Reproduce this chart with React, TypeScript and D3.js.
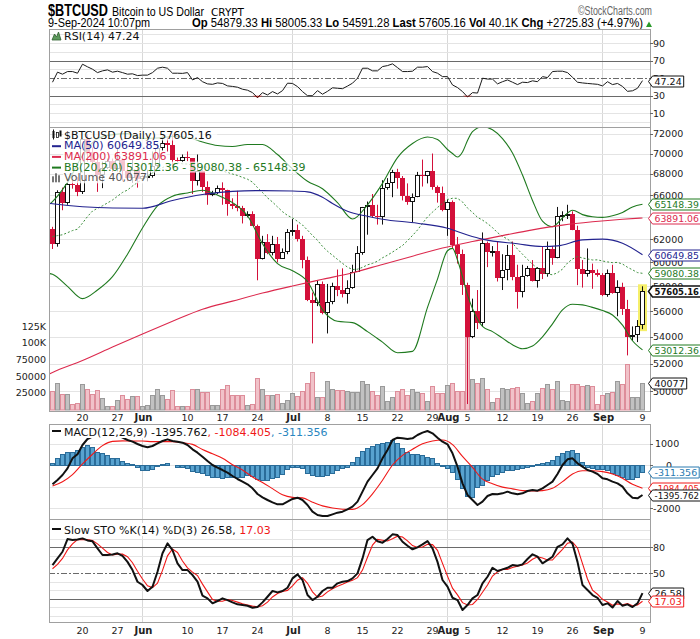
import React from 'react';
import * as d3 from 'd3';

// daily candles, 14 May 2024 .. 9 Sep 2024
const opens = [62900, 61550, 66250, 65230, 67050, 66940, 66280, 71450, 70140, 69120,
  67930, 68530, 69270, 68520, 69400, 68300, 67600, 68350, 67530, 67760,
  67770, 68800, 70570, 71080, 70800, 69340, 69310, 69650, 69510, 67320,
  68240, 66760, 66010, 66190, 66640, 66490, 65140, 64960, 64830, 64100,
  64260, 63180, 60280, 61800, 60810, 61600, 60320, 60890, 62680, 62850,
  62030, 60170, 56900, 56650, 58230, 55850, 56710, 58050, 57720, 57340,
  57900, 59230, 60790, 64870, 65100, 64100, 63970, 66710, 67160, 68200,
  67580, 65930, 65370, 65800, 67910, 67810, 68250, 66800, 66200, 64620,
  65360, 61500, 60680, 58120, 53990, 56030, 55030, 61710, 60880, 60950,
  58710, 59350, 60600, 58740, 57560, 58880, 59490, 58430, 59490, 59010,
  61160, 60380, 64090, 64180, 64250, 62840, 59430, 59030, 59370, 59120,
  58970, 57330, 59110, 57480, 57970, 56160, 53960, 54140, 54879.33];
const highs = [63100, 66450, 66700, 67400, 67400, 67700, 71500, 71950, 70600, 70100,
  69200, 69500, 69500, 70600, 69500, 68900, 69500, 69000, 67850, 68400,
  70200, 71000, 71700, 71600, 71900, 69600, 69900, 70200, 69550, 69900,
  68400, 67300, 66400, 66900, 67200, 66500, 65700, 66400, 65000, 64500,
  64500, 63300, 62300, 62450, 62300, 62200, 61200, 62900, 63800, 63300,
  62300, 60500, 57500, 58450, 58400, 58200, 58300, 59400, 59500, 58500,
  59800, 61400, 64900, 65400, 66100, 65100, 67400, 67600, 68400, 68500,
  67800, 67100, 66150, 68200, 69400, 68300, 70000, 66900, 66800, 65600,
  65500, 62200, 61100, 58300, 57000, 57700, 62600, 61800, 61400, 61800,
  60700, 61500, 61800, 59800, 59800, 59700, 60200, 59600, 61400, 61800,
  61400, 64900, 64500, 65100, 64500, 63200, 60200, 61200, 59900, 59400,
  59100, 59400, 59800, 58500, 58300, 56900, 54800, 55300, 58005.33];
const lows = [61150, 61350, 64600, 65100, 66600, 65900, 66100, 69200, 68900, 66300,
  66650, 68500, 68200, 68250, 67300, 67300, 67150, 66700, 67400, 67300,
  67650, 68600, 70300, 70200, 68600, 69200, 69150, 69250, 66100, 66900,
  66300, 65100, 65900, 66100, 65100, 64100, 64700, 64500, 63400, 63950,
  63200, 58500, 60250, 60700, 60600, 60000, 60300, 60700, 62300, 61800,
  59500, 56800, 53500, 56400, 55750, 54260, 56550, 57200, 57100, 56600,
  57800, 59200, 60650, 62400, 63900, 63300, 63300, 66500, 65800, 66600,
  65500, 65100, 63500, 65800, 66800, 67100, 66500, 65300, 64500, 62300,
  61200, 59900, 57300, 49100, 53900, 54600, 54800, 59600, 60500, 58400,
  57700, 58500, 58500, 56200, 57100, 58800, 58400, 57900, 58600, 58800,
  59800, 60350, 63600, 63800, 62800, 58100, 57900, 58800, 57800, 58800,
  57200, 57150, 57400, 55600, 55700, 52600, 53700, 53600, 54591.28];
const closes = [61550, 66250, 65230, 67050, 66940, 66280, 71450, 70140, 69120, 67930,
  68530, 69270, 68520, 69400, 68300, 67600, 68350, 67530, 67760, 67770,
  68800, 70570, 71080, 70800, 69340, 69310, 69650, 69510, 67320, 68240,
  66760, 66010, 66190, 66640, 66490, 65140, 64960, 64830, 64100, 64260,
  63180, 60280, 61800, 60810, 61600, 60320, 60890, 62680, 62850, 62030,
  60170, 56900, 56650, 58230, 55850, 56710, 58050, 57720, 57340, 57900,
  59230, 60790, 64870, 65100, 64100, 63970, 66710, 67160, 68200, 67580,
  65930, 65370, 65800, 67910, 67810, 68250, 66800, 66200, 64620, 65360,
  61500, 60680, 58120, 53990, 56030, 55030, 61710, 60880, 60950, 58710,
  59350, 60600, 58740, 57560, 58880, 59490, 58430, 59490, 59010, 61160,
  60380, 64090, 64180, 64250, 62840, 59430, 59030, 59370, 59120, 58970,
  57330, 59110, 57480, 57970, 56160, 53960, 54140, 54840, 57605.16];
const volumes = [27000, 40000, 23500, 23500, 8500, 10000, 38000, 31000, 23500, 28500,
  17500, 5000, 5000, 13500, 22000, 16000, 20500, 20500, 4500, 7000,
  22000, 30000, 22000, 16000, 28500, 5500, 5500, 5000, 31000, 31000,
  25500, 25500, 7000, 7000, 31000, 36000, 22000, 22000, 22000, 6000,
  8500, 47000, 31000, 22000, 22000, 23500, 10000, 13500, 25000, 20000,
  27000, 40000, 56000, 18500, 18000, 42000, 30000, 29000, 29000, 27000,
  26000, 26000, 43000, 38000, 28000, 22000, 35000, 13000, 18000, 27000,
  30000, 22000, 31000, 26000, 25000, 12000, 35000, 25000, 24000, 37000,
  40000, 27000, 27000, 109000, 45000, 40000, 47000, 31000, 11000, 17000,
  32000, 31000, 32000, 33000, 25000, 10000, 13000, 24000, 32000, 38000,
  31000, 42000, 14000, 13000, 38000, 38000, 35000, 36000, 35000, 8000,
  21000, 24000, 26000, 42000, 38000, 68000, 18000, 18000, 40077];

// overlays
const bbMid = [62232, 62321, 62394, 62576, 62767, 62889, 63430, 64024, 64524, 64776,
  65008, 65270, 65538, 65892, 66247, 66475, 66853, 67189, 67504, 67749,
  68111, 68327, 68620, 68807, 68927, 69079, 68989, 68957, 68867, 68883,
  68794, 68631, 68515, 68377, 68286, 68163, 67994, 67859, 67676, 67500,
  67219, 66705, 66241, 65741, 65354, 64905, 64467, 64125, 63902, 63591,
  63262, 62806, 62329, 61909, 61377, 60955, 60610, 60254, 59916, 59598,
  59401, 59426, 59580, 59794, 59919, 60102, 60393, 60617, 60884, 61162,
  61450, 61873, 62331, 62815, 63413, 63990, 64427, 64851, 65215, 65588,
  65702, 65696, 65359, 64803, 64400, 63953, 63703, 63389, 63026, 62583,
  62254, 62015, 61662, 61145, 60698, 60260, 59842, 59506, 59226, 59016,
  58960, 59130, 59433, 59946, 60287, 60507, 60373, 60297, 60206, 60219,
  60118, 60043, 59980, 60001, 59865, 59588, 59374, 59141, 59080.38];
const bandDays = [-1, 0, 3, 6, 9, 12, 15, 18, 21, 24, 27, 30, 33, 36, 39, 42, 45, 48, 51, 54, 57,
  60, 63, 66, 69, 72, 75, 77, 79, 80, 81, 82, 83, 84, 86, 88, 90, 92, 94, 96, 98,
  100, 102, 104, 106, 108, 110, 112, 114, 116, 118];
const bbUpper = [65000, 65400, 67200, 69800, 71500, 71900, 72000, 71500, 71550, 71700, 71600,
  71150, 70800, 70700, 70900, 70900, 69900, 68500, 67300, 66600, 65300,
  63800, 65100, 67100, 69600, 71000, 71650, 71400, 70400, 70000, 69650,
  70150, 71300, 72200, 72700, 72400, 71500, 70050, 67900, 65500, 63600,
  63100, 63900, 64600, 64200, 64000, 63950, 64100, 64400, 64900, 65148.39];
const bbLower = [59100, 59000, 58000, 57000, 57700, 58800, 60700, 63000, 65000, 65900, 66200,
  66450, 66000, 65300, 64100, 61600, 59900, 59300, 58400, 56100, 55200,
  55100, 54400, 53600, 52800, 52900, 56300, 58600, 61000, 61200, 60200,
  58800, 57300, 56200, 54800, 54400, 53900, 53400, 53100, 53300, 54000,
  55000, 56100, 56550, 56500, 56300, 56050, 55700, 54900, 53700, 53012.36];
const ma50Days = [-1, 0, 6, 12, 18, 24, 30, 36, 42, 48, 51, 54, 56, 59, 63, 66, 73, 79, 83, 86,
  93, 98, 101, 106, 110, 114, 118];
const ma50 = [65260, 65200, 64920, 64800, 64780, 65500, 66050, 66350, 66420, 66380, 66300,
  65800, 65220, 64500, 64050, 63780, 63420, 62970, 62380, 62010,
  61600, 61360, 61420, 61940, 62010, 61650, 60649.85];
const ma200Days = [-1, 0, 6, 12, 18, 24, 30, 36, 42, 48, 54, 60, 66, 72, 78, 84, 90, 96, 102, 108, 114, 118];
const ma200 = [51180, 51350, 52220, 53220, 54220, 55200, 56150, 56800, 57450, 58030, 58580,
  59130, 59830, 60530, 61230, 61800, 62320, 62830, 63250, 63550, 63780, 63891.06];

// indicators
const rsi = [45.4, 56.9, 54.6, 57.6, 57.6, 55.7, 66, 63, 60.3, 56.4,
  58.4, 59.5, 56.9, 58, 56.4, 54.6, 55, 53, 53.5, 53.5,
  56.4, 61.4, 62.6, 61.4, 55.7, 55.7, 55.5, 56.4, 48, 50.7,
  46, 43.5, 43, 44.6, 44, 41.2, 40.6, 39.7, 37.4, 36.3,
  33.5, 27.8, 33.5, 30.9, 34.7, 32, 35.8, 44.3, 44, 40.4,
  34.7, 30, 30, 35.8, 31.7, 35, 39, 38.5, 38, 41,
  44.3, 50, 61.4, 61.4, 58.4, 58.4, 63.3, 64.4, 66.4, 62.1,
  57.6, 57.6, 58, 62.6, 62.6, 63.3, 57.6, 55.7, 51.8, 51.8,
  42.3, 39.3, 34.7, 28.6, 33.5, 33, 50, 49, 49, 43.5,
  46, 48, 45.4, 42.7, 45.4, 45, 47, 46, 51.8, 50.7,
  57.6, 58, 58, 56.4, 51, 45.4, 44.6, 44, 43.5, 43,
  41.2, 46, 42.7, 44, 40.6, 35, 35.6, 38.5, 47.24];
const macd = [-898, -698, -465, -155, 310, 496, 930, 1209, 1318, 1420,
  1480, 1500, 1470, 1400, 1271, 1163, 1085, 977, 884, 822,
  884, 1008, 1116, 1194, 1116, 1085, 1039, 930, 729, 574,
  388, 186, 0, -124, -233, -357, -512, -651, -775, -899,
  -1085, -1349, -1504, -1628, -1736, -1829, -1829, -1705, -1581, -1519,
  -1628, -1860, -2171, -2326, -2372, -2372, -2295, -2217, -2171, -2062,
  -1938, -1705, -1240, -775, -465, -155, 310, 698, 1163, 1271,
  1240, 1209, 1240, 1395, 1504, 1581, 1473, 1271, 1085, 961,
  543, -78, -853, -1395, -1628, -1860, -1705, -1442, -1349, -1364,
  -1318, -1240, -1318, -1364, -1318, -1209, -1163, -1194, -1085, -930,
  -775, -419, 0, 264, 310, 78, -78, -233, -310, -419,
  -620, -667, -775, -853, -1008, -1318, -1519, -1550, -1395.762];
const signalDays = d3.range(0, 119, 2);
const macdSignal = [-977, -780, -450, 50, 500, 900, 1100, 1120, 1110, 1117,
  1085, 1085, 1085, 1039, 960, 720, 520, 310, 15, -233,
  -558, -814, -1100, -1387, -1504, -1527, -1730, -1900, -2000, -2055,
  -2062, -1840, -1340, -710, 0, 450, 729, 985, 1120, 1160,
  950, 400, -110, -660, -870, -1030, -1110, -1194, -1209, -1194,
  -1085, -775, -419, -264, -264, -310, -419, -620, -899, -1084.405];
const macdHist = [78, 310, 496, 589, 620, 698, 853, 930, 853, 620,
  543, 465, 341, 310, 186, 78, 47, -78, -233, -233,
  -186, -47, 47, 78, 0, -78, -78, -124, -264, -310,
  -357, -465, -574, -574, -620, -574, -543, -543, -543, -465,
  -512, -667, -698, -698, -620, -543, -419, -202, -78, -78,
  -155, -357, -465, -512, -512, -465, -357, -233, -155, -78,
  124, 357, 651, 806, 899, 961, 1039, 1085, 1163, 1008,
  806, 620, 512, 512, 465, 388, 310, 109, -47, -155,
  -310, -667, -1085, -1442, -1473, -1000, -930, -698, -512, -419,
  -310, -233, -233, -202, -155, -78, -47, 31, 78, 155,
  233, 419, 574, 667, 698, 574, 155, -78, -155, -202,
  -202, -233, -357, -465, -574, -667, -667, -574, -311.356];
const stoK = [59.3, 67, 74.8, 89.6, 88.4, 89, 90.4, 88, 87, 78.8,
  71, 71, 71.6, 73, 70, 63, 53.4, 39.8, 36, 29,
  34, 51.5, 73, 84.6, 76.8, 61.3, 53.4, 53.4, 47.6, 40,
  23.5, 20.4, 14.6, 17.3, 20.4, 18.4, 15.7, 13.4, 12.6, 11.8,
  9.5, 10.3, 15.7, 22.3, 29, 27.4, 29, 32.8, 43.7, 48.4,
  41.8, 24.3, 18.4, 22.3, 29, 32.8, 32.8, 37.9, 39.8, 40.6,
  43.7, 49.6, 67, 88.4, 92.3, 87, 85.4, 89.6, 95.1, 94.3,
  86.5, 81.8, 77.6, 80, 83.4, 87.3, 78.8, 63, 41.8, 34,
  21.1, 18.4, 6.8, 12.6, 20.4, 24.3, 37.9, 45.6, 56.1, 52.3,
  54.2, 56.1, 59.3, 58.5, 60.1, 66.3, 71.8, 69, 61.3, 65.1,
  69, 80.6, 83.4, 90.4, 84.2, 63, 36, 30.1, 24.3, 21.1,
  12.6, 14.6, 9.7, 17.3, 11.8, 13.4, 10.3, 14.6, 26.58];
const stoD = [55, 60, 67, 77, 84, 89, 89, 89, 88, 84,
  79, 74, 71, 72, 72, 69, 62, 52, 43, 35,
  33, 38, 53, 70, 78, 74, 64, 56, 51, 47,
  37, 28, 19, 17, 17, 19, 18, 16, 14, 12.6,
  11.3, 10.5, 11.8, 16, 22, 26, 28.5, 29.7, 35, 41.6,
  44.6, 38, 28, 21.7, 23.2, 28, 31.5, 34.5, 36.8, 39.4,
  41.4, 44.6, 53.4, 68.3, 82.6, 89.2, 88.2, 87.3, 90, 93,
  92, 87.5, 82, 79.8, 80.3, 83.6, 83.1, 76.4, 61.2, 46.3,
  32.3, 24.5, 15.4, 12.6, 13.3, 19.1, 27.5, 35.9, 46.5, 51.3,
  54.2, 54.2, 56.5, 58, 59.3, 61.6, 66, 69, 67.4, 65.1,
  65.1, 71.6, 77.7, 84.8, 86, 79.2, 61, 43, 30.1, 25.2,
  19.3, 16.1, 12.3, 13.9, 12.9, 14.2, 11.8, 12.8, 17.03];

// axes
const weekLabelDates = ['2024-05-20', '2024-05-27', '2024-06-10', '2024-06-17', '2024-06-24',
  '2024-07-08', '2024-07-15', '2024-07-22', '2024-07-29', '2024-08-05', '2024-08-12',
  '2024-08-19', '2024-08-26', '2024-09-09'];
const monthDates = ['2024-06-01', '2024-07-01', '2024-08-01', '2024-09-01'];
const priceTicks = d3.range(50000, 72001, 2000);
const volumeTicks = [25000, 50000, 75000, 100000, 125000];
const volumeTickLabels = ['25000', '50000', '75000', '100K', '125K'];
const rsiTicks = [10, 30, 50, 70, 90];
const macdTicks = [1000, 0, -1000, -2000];
const stoTicks = [20, 50, 80];

const LEFT = 49;
const RIGHT = 650;
const RSI_TOP = 29, RSI_BOTTOM = 127;
const MAIN_TOP = 127, MAIN_BOTTOM = 411;
const MACD_TOP = 424, MACD_BOTTOM = 519;
const STO_TOP = 519, STO_BOTTOM = 622;

const FONT = "'DejaVu Sans', Verdana, sans-serif";
const NARROW = "'Liberation Sans Narrow', 'Arial Narrow', 'Liberation Sans', Arial, sans-serif";
const RED = '#d3103a';
const NAVY = '#23238f';
const MA_RED = '#dc2a4e';
const GREEN = '#1f7a1f';
const GRID = '#e4e4e4';
const BORDER = '#a0a0a0';

const start = new Date(Date.UTC(2024, 4, 14));
const dayDate = (d: number) => d3.utcDay.offset(start, d);
const parseDay = (s: string) => new Date(s + 'T00:00:00Z');

const x = d3.scaleUtc()
  .domain([new Date(Date.UTC(2024, 4, 13, 7, 12)), new Date(Date.UTC(2024, 8, 10, 12))])
  .range([LEFT, RIGHT]);
const py = d3.scaleLog().domain([52000, 72000]).range([363.5, 133.6]);
const vy = d3.scaleLinear().domain([0, 125000]).range([409.5, 326]);
const ry = d3.scaleLinear().domain([30, 70]).range([95.7, 60.7]);
const my = d3.scaleLinear().domain([-2000, 1000]).range([508, 443.5]);
const sy = d3.scaleLinear().domain([20, 80]).range([598.7, 547.3]);

const cx = (d: number) => Math.floor(x(dayDate(d)));
const snap = (v: number) => Math.round(v) + 0.5;

const charWidth = (s: string, fs: number) => {
  let w = 0;
  for (const c of s) w += c === '.' || c === ',' ? 0.318 : c === '-' ? 0.361 : 0.636;
  return w * fs;
};

// value flag on the right axis
function Tag({ y, label, color, bold = false }: { y: number; label: string; color: string; bold?: boolean }) {
  const fs = 9.5;
  const natural = charWidth(label, fs);
  const tw = Math.min(natural, 699 - 654.5);
  const w = tw + 4;
  const yy = Math.round(y) + 0.5;
  const h = 5.5;
  const d = `M648.5,${yy} L652.5,${yy - h} L${652.5 + w},${yy - h} L${652.5 + w},${yy + h} L652.5,${yy + h} Z`;
  return (
    <g>
      <path d={d} fill="#fff" stroke={color} strokeWidth={bold ? 1.5 : 1} />
      <text x={654.5} y={yy + 3.5} fontSize={fs} fontFamily={FONT} fontWeight={bold ? 'bold' : 'normal'} fill={color}
        textLength={tw} lengthAdjust="spacingAndGlyphs">{label}</text>
    </g>
  );
}

function Panel({ top, bottom, id }: { top: number; bottom: number; id: string }) {
  return (
    <g>
      <defs>
        <clipPath id={id}><rect x={LEFT} y={top} width={RIGHT - LEFT} height={bottom - top} /></clipPath>
      </defs>
      {monthDates.map(m => {
        const xx = snap(x(parseDay(m)) - 0.5);
        return <line key={m} x1={xx} x2={xx} y1={top} y2={bottom} stroke="#d8d8d8" />;
      })}
    </g>
  );
}

function AxisLabels({ y }: { y: number }) {
  const fmt = d3.utcFormat('%-d');
  const fmtM = d3.utcFormat('%b');
  return (
    <g fontFamily={FONT} fontSize={9.5} fill="#222" textAnchor="middle">
      {weekLabelDates.map(s => <text key={s} x={x(parseDay(s))} y={y}>{fmt(parseDay(s))}</text>)}
      {monthDates.map(s => <text key={s} x={x(parseDay(s)) + 1} y={y} fontWeight="bold" fontSize={10}>{fmtM(parseDay(s))}</text>)}
    </g>
  );
}

function LegendLine({ y, text, color, children }: { y: number; text: string; color: string; children?: React.ReactNode }) {
  const w = text.length * 6.3 + 3;
  return (
    <g>
      <rect x={63} y={y - 9} width={w} height={11} fill="#fff" opacity={0.75} />
      {children}
      <text x={64} y={y} fill={color}>{text}</text>
    </g>
  );
}

export default function App() {
  const n = closes.length;
  const idx = d3.range(n);
  const dailyLine = (scale: (v: number) => number) =>
    d3.line<number>().x((_, i) => x(dayDate(i))).y(v => scale(v));
  const sampledLine = (daysArr: number[], scale: (v: number) => number) =>
    d3.line<number>().x((_, i) => x(dayDate(daysArr[i]))).y(v => scale(v)).curve(d3.curveMonotoneX);

  const rsiArea = d3.area<number>().x((_, i) => x(dayDate(i))).y0(ry(30)).y1(v => ry(Math.min(v, 30)));

  const last = n - 1;
  const legendY = (k: number) => 138.5 + k * 10.7;

  return (
    <svg width={700} height={639} style={{ display: 'block', position: 'absolute', left: 0, top: 0, background: '#fff' }}>
      <rect x={0} y={0} width={700} height={639} fill="#fff" />

      {/* header */}
      <g fontFamily={NARROW}>
        <text x={48} y={16} fontSize={17} fontWeight="bold" textLength={60} lengthAdjust="spacingAndGlyphs">$BTCUSD</text>
        <text x={112} y={16} fontSize={13} textLength={92} lengthAdjust="spacingAndGlyphs">Bitcoin to US Dollar</text>
        <text x={211} y={16} fontSize={10} fontFamily={FONT} textLength={33} lengthAdjust="spacingAndGlyphs">CRYPT</text>
        <text x={652} y={15} fontSize={12} fill="#666" textAnchor="end" textLength={74} lengthAdjust="spacingAndGlyphs">©StockCharts.com</text>
        <text x={48} y={27} fontSize={12} textLength={102} lengthAdjust="spacingAndGlyphs">9-Sep-2024 10:07pm</text>
        <text x={192} y={27} fontSize={12} textLength={451} lengthAdjust="spacingAndGlyphs">
          <tspan fontWeight="bold">Op</tspan>{' 54879.33  '}
          <tspan fontWeight="bold">Hi</tspan>{' 58005.33  '}
          <tspan fontWeight="bold">Lo</tspan>{' 54591.28  '}
          <tspan fontWeight="bold">Last</tspan>{' 57605.16  '}
          <tspan fontWeight="bold">Vol</tspan>{' 40.1K  '}
          <tspan fontWeight="bold">Chg</tspan>{' +2725.83 (+4.97%)'}
        </text>
        <path d="M646,27 L649,21.5 L652,27 Z" fill="#2a9a2a" />
      </g>

      {/* ===== RSI panel ===== */}
      <Panel top={RSI_TOP} bottom={RSI_BOTTOM} id="clipRsi" />
      {d3.range(0, 101, 10).map(v => (
        <line key={v} x1={LEFT} x2={RIGHT} y1={snap(ry(v))} y2={snap(ry(v))}
          stroke={v === 70 || v === 30 || v === 50 ? '#6a6a6a' : GRID}
          strokeDasharray={v === 50 ? '6,2,2,2' : undefined} />
      ))}
      <g clipPath="url(#clipRsi)">
        <path d={rsiArea(rsi) ?? ''} fill="#e02828" />
        <path d={dailyLine(ry)(rsi) ?? ''} fill="none" stroke="#1a1a1a" strokeWidth={1} />
      </g>
      <rect x={LEFT + 0.5} y={RSI_TOP + 0.5} width={RIGHT - LEFT} height={RSI_BOTTOM - RSI_TOP} fill="none" stroke={BORDER} />
      <g fontFamily={FONT} fontSize={9.5} fill="#222">
        {rsiTicks.map(v => (
          <g key={v}>
            <line x1={RIGHT} x2={RIGHT + 3} y1={snap(ry(v))} y2={snap(ry(v))} stroke="#666" />
            <text x={653} y={ry(v) + 3.5}>{v}</text>
          </g>
        ))}
      </g>
      <path d="M52,40 L54.5,34 L56.5,37 L58.5,32 L61,40 Z" fill="#5d9a5d" stroke="#2f5f2f" strokeWidth={0.8} />
      <text x={64} y={40} fontFamily={FONT} fontSize={11} fill="#111">RSI(14) 47.24</text>
      <Tag y={ry(rsi[last])} label="47.24" color="#111" />

      {/* ===== main price panel ===== */}
      <Panel top={MAIN_TOP} bottom={MAIN_BOTTOM} id="clipMain" />
      {priceTicks.map(p => (
        <line key={p} x1={LEFT} x2={RIGHT} y1={snap(py(p))} y2={snap(py(p))} stroke={GRID} />
      ))}
      <g clipPath="url(#clipMain)">
        {idx.map(i => {
          const up = closes[i] >= (i === 0 ? opens[0] : closes[i - 1]);
          const top = Math.round(vy(volumes[i]));
          return (
            <rect key={i} x={cx(i) - 1.5} y={top + 0.5} width={4} height={Math.max(0, 409.5 - top)}
              fill={up ? '#c2c2c2' : '#f1c2c9'} stroke={up ? '#9a9a9a' : '#dd8d9a'} strokeWidth={1} />
          );
        })}
        <rect x={cx(last) - 4} y={py(highs[last]) - 2} width={9} height={py(lows[last]) - py(highs[last]) + 4} fill="#f5ef6a" />
        {idx.map(i => {
          const prev = i === 0 ? opens[0] : closes[i - 1];
          const color = closes[i] >= prev ? '#111' : RED;
          const hollow = closes[i] >= opens[i];
          const c = cx(i);
          const yTop = Math.round(py(Math.max(opens[i], closes[i])));
          const yBot = Math.round(py(Math.min(opens[i], closes[i])));
          const bh = Math.max(1, yBot - yTop);
          return (
            <g key={i}>
              <line x1={c + 0.5} x2={c + 0.5} y1={py(highs[i])} y2={py(lows[i])} stroke={color} />
              {hollow
                ? <rect x={c - 1.5} y={yTop + 0.5} width={4} height={Math.max(1, bh - 1)} fill="#fff" stroke={color} />
                : <rect x={c - 2} y={yTop} width={5} height={bh} fill={color} />}
            </g>
          );
        })}
        <path d={sampledLine(bandDays, py)(bbUpper) ?? ''} fill="none" stroke={GREEN} strokeWidth={1.1} />
        <path d={sampledLine(bandDays, py)(bbLower) ?? ''} fill="none" stroke={GREEN} strokeWidth={1.1} />
        <path d={dailyLine(py)(bbMid) ?? ''} fill="none" stroke="#3d8f3d" strokeWidth={1} strokeDasharray="2,2" />
        <path d={sampledLine(ma200Days, py)(ma200) ?? ''} fill="none" stroke={MA_RED} strokeWidth={1.1} />
        <path d={sampledLine(ma50Days, py)(ma50) ?? ''} fill="none" stroke={NAVY} strokeWidth={1.1} />
      </g>
      <rect x={LEFT + 0.5} y={MAIN_TOP + 0.5} width={RIGHT - LEFT} height={MAIN_BOTTOM - MAIN_TOP} fill="none" stroke={BORDER} />
      <g fontFamily={FONT} fontSize={9.5} fill="#222">
        {priceTicks.map(p => (
          <g key={p}>
            <line x1={RIGHT} x2={RIGHT + 3} y1={snap(py(p))} y2={snap(py(p))} stroke="#666" />
            <text x={653} y={py(p) + 3.5}>{p}</text>
          </g>
        ))}
        {volumeTicks.map((v, k) => (
          <text key={v} x={46} y={vy(v) + 3.5} textAnchor="end">{volumeTickLabels[k]}</text>
        ))}
      </g>
      {/* legend */}
      <g fontFamily={FONT} fontSize={11}>
        <LegendLine y={legendY(0)} text="$BTCUSD (Daily) 57605.16" color="#111" />
        <g fill="#111">
          <rect x={52.5} y={131} width={2} height={7} />
          <line x1={53.5} x2={53.5} y1={129.5} y2={139.5} stroke="#111" />
          <rect x={56.5} y={132.5} width={2} height={5} fill="#fff" stroke="#111" strokeWidth={0.8} />
          <rect x={59.5} y={130.5} width={2} height={6} />
        </g>
        <LegendLine y={legendY(1)} text="MA(50) 60649.85" color={NAVY} />
        <rect x={52} y={legendY(1) - 4} width={9} height={2} fill={NAVY} />
        <LegendLine y={legendY(2)} text="MA(200) 63891.06" color={MA_RED} />
        <rect x={52} y={legendY(2) - 4} width={9} height={2} fill={MA_RED} />
        <LegendLine y={legendY(3)} text="BB(20,2.0) 53012.36 - 59080.38 - 65148.39" color={GREEN} />
        <rect x={52} y={legendY(3) - 4} width={9} height={2} fill={GREEN} />
        <LegendLine y={legendY(4)} text="Volume 40,077" color="#555" />
        <g fill="#777">
          <rect x={52} y={legendY(4) - 5} width={2} height={6} />
          <rect x={55} y={legendY(4) - 8} width={2} height={9} />
          <rect x={58} y={legendY(4) - 6} width={2} height={7} />
        </g>
      </g>
      <Tag y={vy(volumes[last])} label="40077" color="#111" />
      <Tag y={py(65148.39)} label="65148.39" color={GREEN} />
      <Tag y={py(63891.06)} label="63891.06" color={MA_RED} />
      <Tag y={py(60649.85)} label="60649.85" color={NAVY} />
      <Tag y={py(59080.38)} label="59080.38" color={GREEN} />
      <Tag y={py(53012.36)} label="53012.36" color={GREEN} />
      <Tag y={py(closes[last])} label="57605.16" color="#111" bold />

      <AxisLabels y={421} />

      {/* ===== MACD panel ===== */}
      <Panel top={MACD_TOP} bottom={MACD_BOTTOM} id="clipMacd" />
      {macdTicks.map(v => (
        <line key={v} x1={LEFT} x2={RIGHT} y1={snap(my(v))} y2={snap(my(v))} stroke={GRID} />
      ))}
      <g clipPath="url(#clipMacd)">
        {idx.map(i => {
          const y0 = Math.round(my(0));
          const y1 = Math.round(my(macdHist[i]));
          const t = Math.min(y0, y1);
          const h = Math.abs(y1 - y0);
          return <rect key={i} x={cx(i) - 1.5} y={t + 0.5} width={4} height={Math.max(0, h)} fill="#58a2cf" stroke="#2a6c99" />;
        })}
        <path d={sampledLine(signalDays, my)(macdSignal) ?? ''} fill="none" stroke="#f01818" strokeWidth={1.1} />
        <path d={dailyLine(my)(macd) ?? ''} fill="none" stroke="#111" strokeWidth={2} strokeLinejoin="round" />
      </g>
      <rect x={50} y={425} width={290} height={13} fill="#fff" />
      <rect x={52} y={430} width={9} height={2} fill="#111" />
      <text x={64} y={435.5} fontFamily={FONT} fontSize={11}>
        <tspan fill="#111">MACD(12,26,9) -1395.762</tspan>
        <tspan fill="#f01818">, -1084.405</tspan>
        <tspan fill="#2a86c0">, -311.356</tspan>
      </text>
      <rect x={LEFT + 0.5} y={MACD_TOP + 0.5} width={RIGHT - LEFT} height={MACD_BOTTOM - MACD_TOP} fill="none" stroke={BORDER} />
      <g fontFamily={FONT} fontSize={9.5} fill="#222">
        {macdTicks.map(v => (
          <g key={v}>
            <line x1={RIGHT} x2={RIGHT + 3} y1={snap(my(v))} y2={snap(my(v))} stroke="#666" />
            <text x={v === 1000 ? 655 : 653} y={my(v) + 3.5} dx={v === 0 ? 13 : 0}>{v}</text>
          </g>
        ))}
      </g>
      <Tag y={my(macdHist[last])} label="-311.356" color="#2a7ab0" />
      <Tag y={my(macdSignal[macdSignal.length - 1])} label="-1084.405" color="#f01818" />
      <Tag y={my(macd[last])} label="-1395.762" color="#111" />

      {/* ===== Slow STO panel ===== */}
      <Panel top={STO_TOP} bottom={STO_BOTTOM} id="clipSto" />
      {d3.range(0, 101, 10).map(v => (
        <line key={v} x1={LEFT} x2={RIGHT} y1={snap(sy(v))} y2={snap(sy(v))}
          stroke={v === 80 || v === 20 || v === 50 ? '#6a6a6a' : GRID}
          strokeDasharray={v === 50 ? '6,2,2,2' : undefined} />
      ))}
      <g clipPath="url(#clipSto)">
        <path d={dailyLine(sy)(stoD) ?? ''} fill="none" stroke="#f01818" strokeWidth={1.1} />
        <path d={dailyLine(sy)(stoK) ?? ''} fill="none" stroke="#111" strokeWidth={2} strokeLinejoin="round" />
      </g>
      <rect x={50} y={523} width={240} height={13} fill="#fff" />
      <rect x={52} y={528} width={9} height={2} fill="#111" />
      <text x={64} y={533.5} fontFamily={FONT} fontSize={11}>
        <tspan fill="#111">Slow STO %K(14) %D(3) 26.58, </tspan>
        <tspan fill="#f01818">17.03</tspan>
      </text>
      <rect x={LEFT + 0.5} y={STO_TOP + 0.5} width={RIGHT - LEFT} height={STO_BOTTOM - STO_TOP} fill="none" stroke={BORDER} />
      <g fontFamily={FONT} fontSize={9.5} fill="#222">
        {stoTicks.map(v => (
          <g key={v}>
            <line x1={RIGHT} x2={RIGHT + 3} y1={snap(sy(v))} y2={snap(sy(v))} stroke="#666" />
            <text x={653} y={sy(v) + 3.5}>{v}</text>
          </g>
        ))}
      </g>
      <Tag y={sy(stoK[last])} label="26.58" color="#111" />
      <Tag y={sy(stoD[last])} label="17.03" color="#f01818" />

      <AxisLabels y={634} />
    </svg>
  );
}
